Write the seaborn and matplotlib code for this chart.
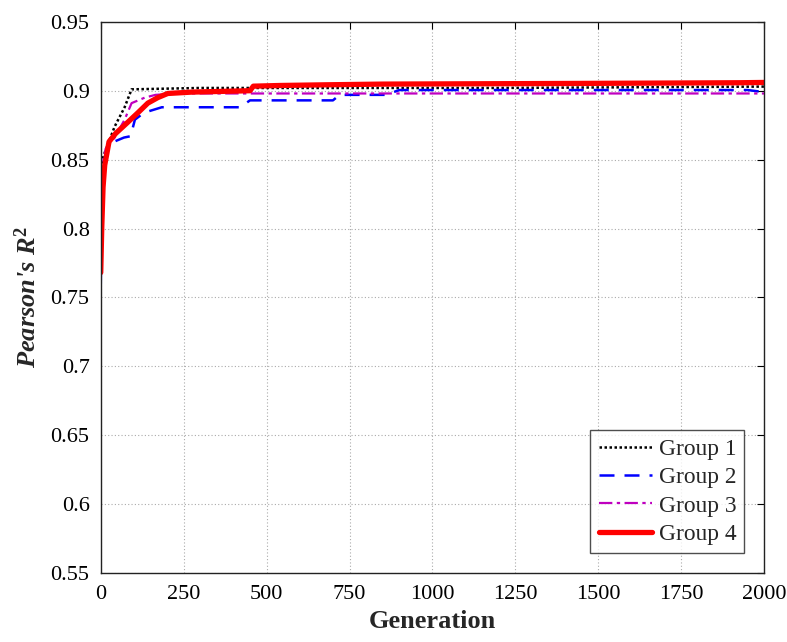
import matplotlib
matplotlib.use("Agg")
import matplotlib.pyplot as plt
import seaborn as sns
import pandas as pd

# Best Pearson's R^2 per generation for each group (step-wise convergence traces)
gen_g1 = [0, 2, 5, 12, 42, 72, 93, 300, 700, 1200, 2000]
r2_g1 = [0.800, 0.840, 0.850, 0.855, 0.874, 0.888, 0.901, 0.902, 0.902, 0.902, 0.903]

gen_g2 = [0, 3, 8, 15, 30, 70, 90, 103, 130, 184, 420, 450, 700, 720, 860, 900, 1950, 2000]
r2_g2 = [0.758, 0.815, 0.845, 0.855, 0.862, 0.866, 0.867, 0.879, 0.884, 0.888, 0.888, 0.893, 0.893, 0.897, 0.897, 0.9005, 0.9005, 0.899]

gen_g3 = [0, 3, 8, 15, 27, 42, 72, 93, 133, 165, 230, 2000]
r2_g3 = [0.780, 0.825, 0.850, 0.858, 0.862, 0.866, 0.879, 0.891, 0.895, 0.897, 0.898, 0.898]

gen_g4 = [0, 3, 7, 12, 25, 45, 81, 112, 142, 172, 202, 275, 450, 460, 540, 680, 850, 1445, 1928, 2000]
r2_g4 = [0.768, 0.800, 0.830, 0.846, 0.863, 0.869, 0.877, 0.884, 0.891, 0.895, 0.898, 0.899, 0.900, 0.9033, 0.9038, 0.9043, 0.9048, 0.9053, 0.9058, 0.906]

labels = ["Group 1", "Group 2", "Group 3", "Group 4"]
colors = ["black", "#0000ff", "#bf00bf", "#ff0000"]
styles = [(0, (1, 1)), (0, (6, 4)), (0, (6, 2, 1.5, 2)), "-"]
widths = [1.8, 1.8, 1.6, 3.8]

x_ticks = [0, 250, 500, 750, 1000, 1250, 1500, 1750, 2000]
y_ticks = [0.55, 0.6, 0.65, 0.7, 0.75, 0.8, 0.85, 0.9, 0.95]
y_ticklabels = ["0.55", "0.6", "0.65", "0.7", "0.75", "0.8", "0.85", "0.9", "0.95"]

sns.set_theme(style="white")
plt.rcParams["font.family"] = ["Liberation Serif", "DejaVu Serif"]
plt.rcParams["mathtext.fontset"] = "custom"
plt.rcParams["mathtext.rm"] = "Liberation Serif"
plt.rcParams["mathtext.it"] = "Liberation Serif:italic"
plt.rcParams["mathtext.bf"] = "Liberation Serif:bold"
plt.rcParams["mathtext.bfit"] = "Liberation Serif:bold:italic"

fig = plt.figure(figsize=(7.87, 6.42), dpi=100)
ax = fig.add_axes([0.128, 0.1075, 0.843, 0.8585])

series = [(gen_g1, r2_g1), (gen_g2, r2_g2), (gen_g3, r2_g3), (gen_g4, r2_g4)]
for (g, r), lab, c, ls, lw in zip(series, labels, colors, styles, widths):
    df = pd.DataFrame({"Generation": g, "R2": r})
    sns.lineplot(data=df, x="Generation", y="R2", ax=ax, estimator=None, sort=False,
                 color=c, linestyle=ls, linewidth=lw, label=lab)

ax.set_xlim(0, 2000)
ax.set_ylim(0.55, 0.95)
ax.set_xticks(x_ticks)
ax.set_yticks(y_ticks)
ax.set_yticklabels(y_ticklabels)
ax.grid(True, linestyle=(0, (1, 2)), color="#aaaaaa", linewidth=0.8)
ax.tick_params(direction="in", length=5, width=0.8, top=True, right=True,
               labelsize=16, colors="black", pad=8)
ax.tick_params(axis="x", pad=9)
for s in ax.spines.values():
    s.set_color("#222222")
    s.set_linewidth(1.0)

ax.set_xlabel("Generation", fontsize=19, fontweight="bold", labelpad=4)
ax.set_ylabel(r"Pearson's $\mathbfit{R}^{\mathbf{2}}$", fontsize=19,
              fontweight="bold", fontstyle="italic", labelpad=7)

leg = ax.legend(loc="lower right", fontsize=16.8, frameon=True, fancybox=False,
                handlelength=2.3, handletextpad=0.27, borderpad=0.35,
                labelspacing=0.3, borderaxespad=0.85)
leg.get_frame().set_edgecolor("#222222")
leg.get_frame().set_linewidth(1.0)

fig.savefig("out.png", dpi=100)
